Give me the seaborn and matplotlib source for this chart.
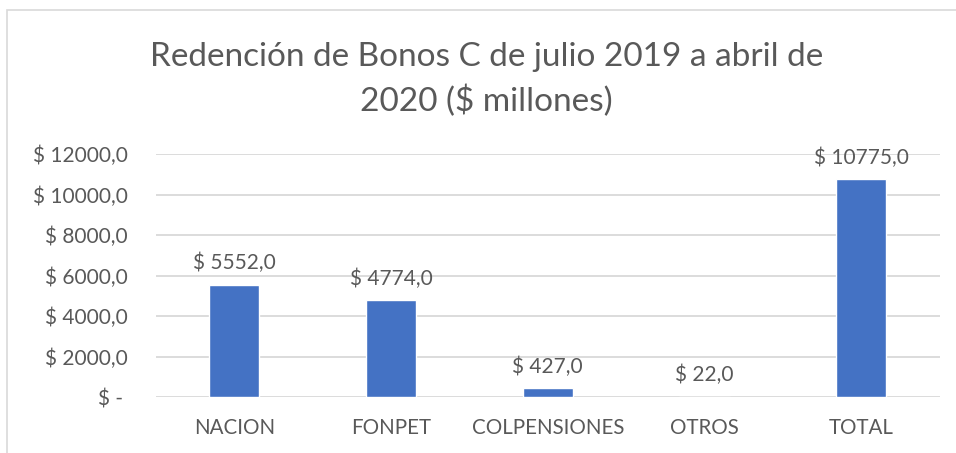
import matplotlib
matplotlib.use("Agg")
import matplotlib.pyplot as plt
import seaborn as sns
import pandas as pd
from matplotlib.patches import Rectangle

sns.set_style("white")
plt.rcParams["font.family"] = ["Lato", "DejaVu Sans"]

# data
categorias = ["NACION", "FONPET", "COLPENSIONES", "OTROS", "TOTAL"]
valores = [5552.0, 4774.0, 427.0, 22.0, 10775.0]
ticks_y = [0, 2000, 4000, 6000, 8000, 10000, 12000]

df = pd.DataFrame({"categoria": categorias, "valor": valores})

GRIS = "#595959"
AZUL = "#4472C4"

fig = plt.figure(figsize=(9.56, 4.53), dpi=100)
ax = fig.add_axes([0.163, 0.1236, 0.820, 0.5364])

sns.barplot(data=df, x="categoria", y="valor", ax=ax, color=AZUL,
            width=0.32, saturation=1, zorder=3)

ax.set_ylim(0, 12000)
ax.set_yticks(ticks_y)
ax.set_yticklabels(["$ - "] + [f"$ {t},0" for t in ticks_y[1:]])
ax.yaxis.grid(True, color="#d9d9d9", linewidth=1.3, zorder=0)
ax.set_axisbelow(True)
for s in ax.spines.values():
    s.set_visible(False)
ax.tick_params(axis="y", length=0, pad=20, labelsize=15, labelcolor=GRIS)
ax.tick_params(axis="x", length=0, pad=15, labelsize=14.8, labelcolor=GRIS)
ax.set_xlabel("")
ax.set_ylabel("")

for i, v in enumerate(valores):
    ax.annotate(f"$ {v:.1f}".replace(".", ","), (i, v), xytext=(0, 8),
                textcoords="offset points", ha="center", va="bottom",
                fontsize=15, color=GRIS)

fig.text(0.509, 0.874, "Redención de Bonos C de julio 2019 a abril de",
         ha="center", va="center", fontsize=24, color=GRIS)
fig.text(0.509, 0.778, "2020 ($ millones)",
         ha="center", va="center", fontsize=24, color=GRIS)

# chart frame (Excel chart area border)
fig.patches.append(Rectangle((0.007, -0.1), 1.1, 1.078, transform=fig.transFigure,
                             fill=False, edgecolor="#d9d9d9", linewidth=1.2))

fig.savefig("out.png", dpi=100)
